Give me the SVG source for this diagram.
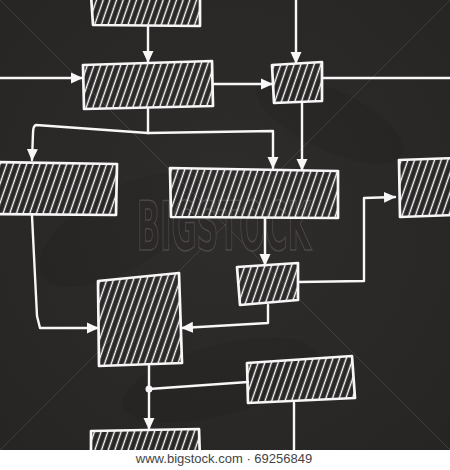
<svg xmlns="http://www.w3.org/2000/svg" width="450" height="470" viewBox="0 0 450 470">
<defs>
<pattern id="hatch" width="6.3" height="20" patternUnits="userSpaceOnUse" patternTransform="rotate(19)">
<line x1="3.1" y1="-2" x2="3.1" y2="22" stroke="#ffffff" stroke-width="1.4"/>
</pattern>
<marker id="ah" viewBox="0 0 12 12" refX="11" refY="6" markerWidth="12" markerHeight="12" markerUnits="userSpaceOnUse" orient="auto">
<path d="M0,0.5 L12,6 L0,11.5 Z" fill="#f7f7f7"/>
</marker>
<radialGradient id="bg" cx="0.5" cy="0.45" r="0.7">
<stop offset="0" stop-color="#2f2c2c"/>
<stop offset="1" stop-color="#272424"/>
</radialGradient>
</defs>
<style>
.box{fill:url(#hatch);stroke:#f7f7f7;stroke-width:2.7;stroke-linejoin:round}
.c{fill:none;stroke:#f7f7f7;stroke-width:2.4;stroke-linejoin:round;stroke-linecap:round}
.a{marker-end:url(#ah)}
.wm{fill:none;stroke:#5e5a5a;stroke-width:1;opacity:0.45}
</style>
<rect x="0" y="0" width="450" height="470" fill="url(#bg)"/>
<g opacity="0.07" fill="#000">
<ellipse cx="120" cy="230" rx="90" ry="40" transform="rotate(-30 120 230)"/>
<ellipse cx="330" cy="120" rx="80" ry="30" transform="rotate(25 330 120)"/>
<ellipse cx="220" cy="380" rx="100" ry="35" transform="rotate(-15 220 380)"/>
</g>
<g id="watermark">
<line class="wm" x1="0" y1="0" x2="450" y2="450"/>
<line class="wm" x1="450" y1="0" x2="0" y2="450"/>
<text x="137" y="250" font-family="DejaVu Sans Condensed, DejaVu Sans, sans-serif" font-weight="bold" font-size="68" textLength="174" lengthAdjust="spacingAndGlyphs" fill="#2d2a2a" stroke="#555151" stroke-width="1.5" opacity="0.8">BIGSTOCK</text>
</g>
<g id="connectors">
<path class="c a" d="M148,27 L148,62"/>
<path class="c a" d="M0,78 L82,78"/>
<path class="c a" d="M213,84 L272,84"/>
<path class="c a" d="M296,0 L296,63"/>
<path class="c" d="M322,78 L450,78"/>
<path class="c a" d="M302,103 L302,170"/>
<path class="c" d="M148,109 L148,133"/>
<path class="c a" d="M148,133 L36,125 Q33,126 33,133 L32,160"/>
<path class="c a" d="M148,133 L273,131 L273,168"/>
<path class="c a" d="M265,218 L265,265"/>
<path class="c a" d="M298,282 L364,281 L364,198 L395,197"/>
<path class="c a" d="M32,216 L37,316 L40,328 L98,328"/>
<path class="c a" d="M268,305 L268,323 L182,328"/>
<path class="c a" d="M149,366 L149,429"/>
<path class="c" d="M248,382 L149,389"/>
<circle cx="149" cy="389" r="3.5" fill="#f7f7f7"/>
<path class="c" d="M294,403 L294,452"/>
</g>
<g id="node-a"><polygon class="box" points="91,-5 200,-5 200,26 93,25"/></g>
<g id="node-b"><polygon class="box" points="83,65 212,61 213,106 84,109"/></g>
<g id="node-c"><polygon class="box" points="272,65 322,62 322,101 274,103"/></g>
<g id="node-d"><polygon class="box" points="-5,162 117,164 116,215 -5,214"/></g>
<g id="node-e"><polygon class="box" points="170,168 338,171 338,218 171,217"/></g>
<g id="node-f"><polygon class="box" points="399,160 455,158 455,215 400,217"/></g>
<g id="node-g"><polygon class="box" points="237,267 298,263 298,300 240,305"/></g>
<g id="node-h"><polygon class="box" points="98,281 179,273 182,363 99,366"/></g>
<g id="node-i"><polygon class="box" points="247,363 352,356 355,398 248,403"/></g>
<g id="node-j"><polygon class="box" points="91,431 199,429 200,460 91,460"/></g>
<g id="footer">
<rect x="0" y="450" width="450" height="20" fill="#ffffff"/>
<text x="224" y="463" text-anchor="middle" font-family="Liberation Sans, Arial, sans-serif" font-size="13" fill="#444444">www.bigstock.com · 69256849</text>
</g>
</svg>
